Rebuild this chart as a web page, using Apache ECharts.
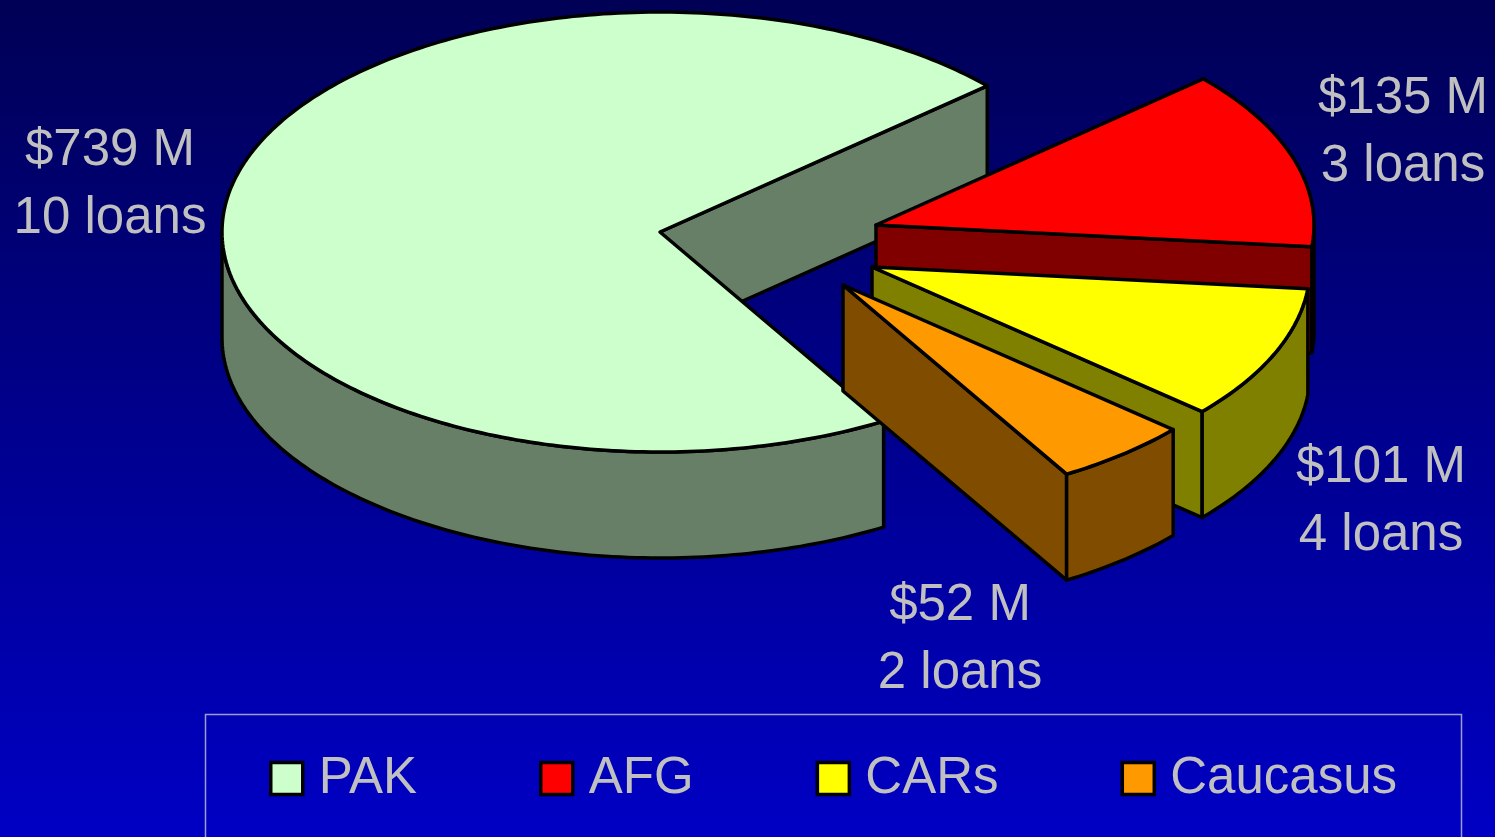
<!DOCTYPE html>
<html>
<head>
<meta charset="utf-8">
<script src="https://cdn.jsdelivr.net/npm/echarts@6/dist/echarts.min.js"></script>
<style>
html,body{margin:0;padding:0;width:1495px;height:837px;overflow:hidden;}
#chart{width:1495px;height:837px;}
</style>
</head>
<body>
<div id="chart"></div>
<script>
// ---- data ----
const categories = ['PAK', 'AFG', 'CARs', 'Caucasus'];
const amounts = [739, 135, 101, 52];      // $ M
const loans = [10, 3, 4, 2];

// ---- styles / layout ----
const topColors = ['#ccffcc', '#ff0000', '#ffff00', '#ff9900'];
const sideColors = ['#667f66', '#800000', '#808000', '#804c00'];
const pie = { cx: 660, cy: 232, rx: 438, ry: 220, depth: 106, startAngle: 300.7 };
const explode = [[0, 0], [216, -7], [212, 35], [183, 53]];
const labelPos = [[110, 185], [1403, 133], [1381, 502], [960, 640]];

const total = amounts.reduce((a, b) => a + b, 0);
const D2R = Math.PI / 180;

function startOf(i) {
  let before = 0;
  for (let k = 0; k < i; k++) before += amounts[k];
  return pie.startAngle - before / total * 360;
}

function makeRender(i) {
  return function (params, api) {
    const val = api.value(0);
    const a0 = startOf(i);
    const a1 = a0 - val / total * 360;
    const ox = pie.cx + explode[i][0];
    const oy = pie.cy + explode[i][1];
    const pt = (t, dz) => [ox + pie.rx * Math.cos(t * D2R), oy - pie.ry * Math.sin(t * D2R) + dz];
    const arc = (from, to, dz) => {
      const pts = [];
      const n = Math.max(2, Math.ceil(Math.abs(from - to)));
      for (let s = 0; s <= n; s++) pts.push(pt(from + (to - from) * s / n, dz));
      return pts;
    };
    const stroke = { stroke: '#000', lineWidth: 3.5, lineJoin: 'round' };
    const children = [];
    const center = [ox, oy];
    const centerB = [ox, oy + pie.depth];
    // radial faces
    if (Math.cos(a0 * D2R) < 0) {
      children.push({ type: 'polygon', shape: { points: [center, pt(a0, 0), pt(a0, pie.depth), centerB] },
        style: Object.assign({ fill: sideColors[i] }, stroke) });
    }
    if (Math.cos(a1 * D2R) > 0) {
      children.push({ type: 'polygon', shape: { points: [center, pt(a1, 0), pt(a1, pie.depth), centerB] },
        style: Object.assign({ fill: sideColors[i] }, stroke) });
    }
    // outer wall (front half only)
    for (let k = -2; k <= 2; k++) {
      const lo = Math.max(a1, 180 + 360 * k);
      const hi = Math.min(a0, 360 + 360 * k);
      if (hi - lo > 0.01) {
        const topArc = arc(lo, hi, 0);
        const botArc = arc(hi, lo, pie.depth);
        children.push({ type: 'polygon', shape: { points: topArc.concat(botArc) },
          style: Object.assign({ fill: sideColors[i] }, stroke) });
      }
    }
    // top face
    children.push({ type: 'polygon', shape: { points: [center].concat(arc(a0, a1, 0)) },
      style: Object.assign({ fill: topColors[i] }, stroke) });
    return { type: 'group', children: children };
  };
}

const series = categories.map((name, i) => ({
  type: 'custom',
  name: name,
  coordinateSystem: 'none',
  silent: true,
  z: 2 + i,
  itemStyle: { color: topColors[i], borderColor: '#000', borderWidth: 3 },
  data: [[amounts[i]]],
  renderItem: makeRender(i)
}));

const labelFont = '51px "Liberation Sans", Arial, sans-serif';
const graphics = [
  { type: 'rect', silent: true, z: 1,
    shape: { x: 205.5, y: 714.5, width: 1256, height: 160 },
    style: { fill: 'none', stroke: '#9c9cd4', lineWidth: 1.5 } }
];
categories.forEach((name, i) => {
  graphics.push({
    type: 'text', silent: true, z: 20,
    x: labelPos[i][0], y: labelPos[i][1],
    style: {
      text: '$' + amounts[i] + ' M\n' + loans[i] + ' loans',
      font: labelFont, fill: '#c0c0c0',
      textAlign: 'center', textVerticalAlign: 'middle', lineHeight: 68
    }
  });
});

const chart = echarts.init(document.getElementById('chart'), null, { renderer: 'canvas' });
chart.setOption({
  animation: false,
  backgroundColor: {
    type: 'linear', x: 0, y: 0, x2: 0, y2: 1,
    colorStops: [{ offset: 0, color: '#000055' }, { offset: 1, color: '#0000c4' }]
  },
  legend: {
    data: categories,
    left: 264, top: 748,
    orient: 'horizontal',
    icon: 'rect',
    itemWidth: 32, itemHeight: 32,
    itemGap: 122,
    selectedMode: false,
    itemStyle: { borderColor: '#000', borderWidth: 3.5 },
    textStyle: { color: '#c0c0c0', fontSize: 51, fontFamily: '"Liberation Sans", Arial, sans-serif', padding: [0, 0, 0, 11] }
  },
  graphic: graphics,
  series: series
});
</script>
</body>
</html>
